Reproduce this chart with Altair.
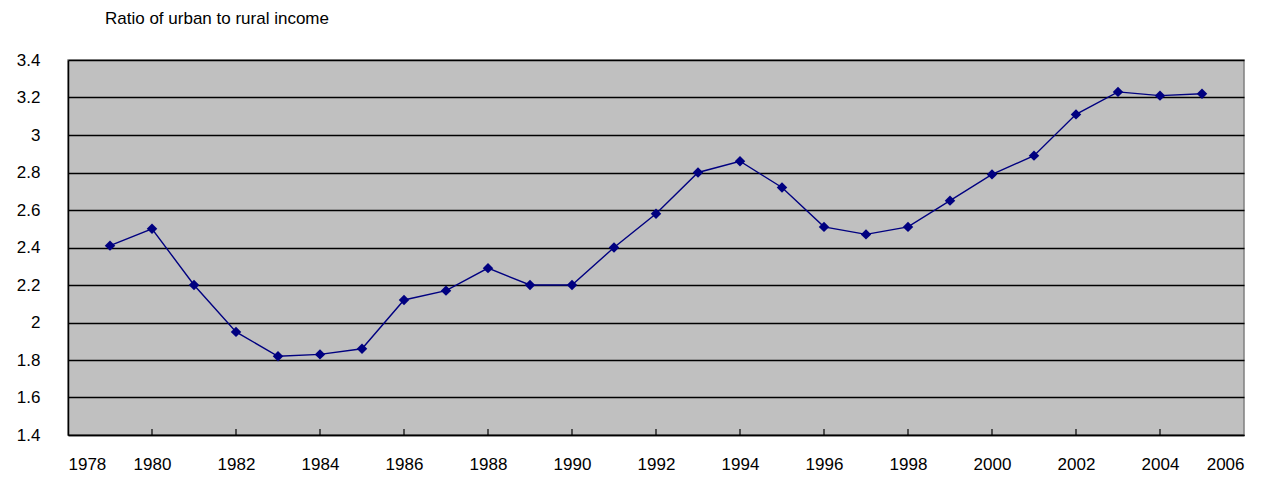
import altair as alt
import pandas as pd

years = list(range(1979, 2006))
ratios = [2.41, 2.50, 2.20, 1.95, 1.82, 1.83, 1.86, 2.12, 2.17, 2.29,
          2.20, 2.20, 2.40, 2.58, 2.80, 2.86, 2.72, 2.51, 2.47, 2.51,
          2.65, 2.79, 2.89, 3.11, 3.23, 3.21, 3.22]
tick_years = list(range(1980, 2006, 2))

df = pd.DataFrame({"year": years, "ratio": ratios})
ticks = pd.DataFrame({"year": tick_years})

FONT = "Liberation Sans"

x = alt.X("year:Q", scale=alt.Scale(domain=[1978, 2006], nice=False, zero=False),
          axis=alt.Axis(values=list(range(1978, 2007, 2)), format="d", title=None,
                        grid=False, ticks=False, domainColor="black", domainWidth=1.5,
                        labelFontSize=17, labelPadding=21, labelFont=FONT, labelColor="black"))
y = alt.Y("ratio:Q", scale=alt.Scale(domain=[1.4, 3.4], nice=False, zero=False),
          axis=alt.Axis(values=[1.4, 1.6, 1.8, 2.0, 2.2, 2.4, 2.6, 2.8, 3.0, 3.2, 3.4],
                        labelExpr="format(datum.value, '.1~f')", title=None,
                        grid=True, gridColor="black", gridWidth=1.5, ticks=False,
                        domainColor="black", domainWidth=1.5,
                        labelFontSize=17, labelPadding=28, labelFont=FONT, labelColor="black"))

line = alt.Chart(df).mark_line(color="#000080", strokeWidth=1.4).encode(x=x, y=y)
pts = alt.Chart(df).mark_point(shape="diamond", filled=True, color="#000080",
                               size=110, opacity=1).encode(x=x, y=y)
tk = alt.Chart(ticks).mark_rule(color="black", strokeWidth=1.2).encode(
    x=alt.X("year:Q", scale=alt.Scale(domain=[1978, 2006], nice=False, zero=False)),
    y=alt.value(375), y2=alt.value(369))

chart = alt.layer(tk, line, pts).properties(
    width=1176, height=375,
    background="white",
    autosize=alt.AutoSizeParams(type="none"),
    padding={"left": 60, "top": 52, "right": 28, "bottom": 37},
    title=alt.TitleParams("Ratio of urban to rural income", anchor="start", frame="group",
                          dx=37, offset=23, fontSize=17, fontWeight="normal",
                          font=FONT, color="black"),
).configure_view(fill="#C0C0C0", stroke="#808080", strokeWidth=1.5)

chart.save("out.html", embed_options={"renderer": "svg", "actions": False})
